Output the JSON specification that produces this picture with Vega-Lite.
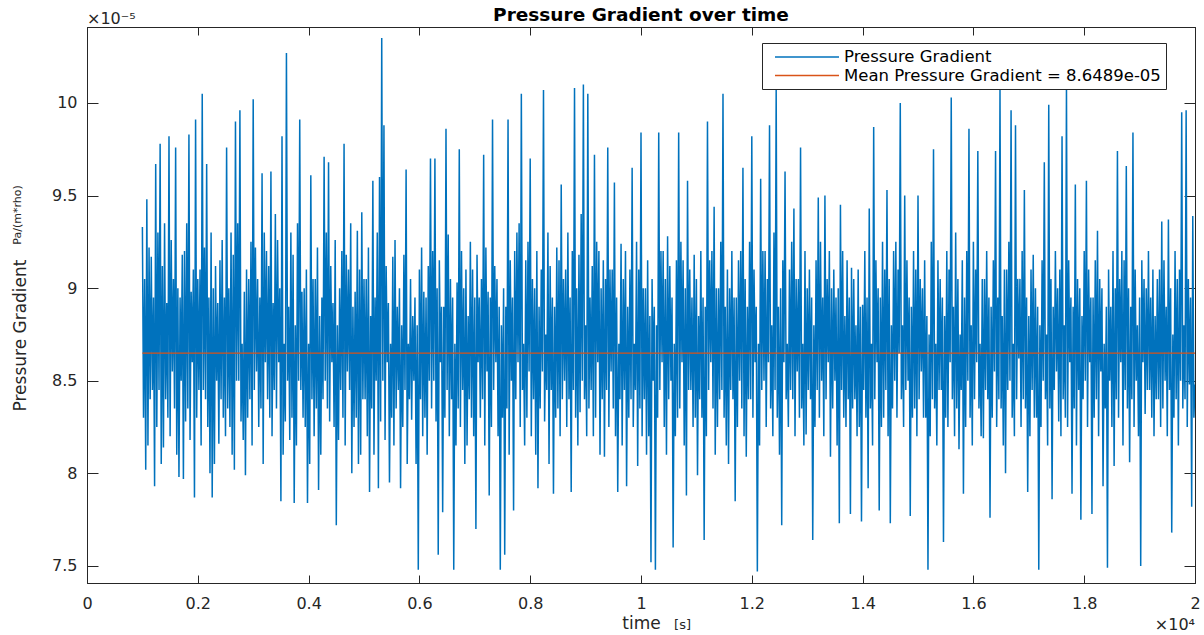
{
"$schema": "https://vega.github.io/schema/vega-lite/v6.json",
"width": 1108,
"height": 556,
"autosize": {"type": "none"},
"padding": {"left": 87, "top": 27, "right": 9, "bottom": 52},
"background": "white",
"config": {
  "font": "DejaVu Sans",
  "view": {"stroke": "#262626", "strokeWidth": 1},
  "axis": {"domainColor": "#262626", "domainWidth": 1, "tickColor": "#262626", "tickWidth": 1, "labelColor": "#262626", "labelFont": "DejaVu Sans", "labelFontSize": 16, "titleColor": "#262626", "titleFont": "DejaVu Sans", "titleFontWeight": "normal", "grid": false}
},
"title": {"text": "Pressure Gradient over time", "font": "DejaVu Sans", "fontSize": 18.5, "fontWeight": "bold", "color": "black", "anchor": "middle", "frame": "group", "offset": -14},
"datasets": {
"pg": [
{"t":1000,"p":9.33},{"t":1020,"p":8.30},{"t":1040,"p":9.05},{"t":1060,"p":8.02},{"t":1080,"p":9.48},{"t":1100,"p":8.15},{"t":1120,"p":9.22},{"t":1140,"p":8.40},{"t":1160,"p":9.17},{"t":1180,"p":8.45},
{"t":1200,"p":8.95},{"t":1220,"p":7.93},{"t":1240,"p":9.67},{"t":1260,"p":8.25},{"t":1280,"p":9.30},{"t":1300,"p":8.45},{"t":1320,"p":9.78},{"t":1340,"p":8.05},{"t":1360,"p":9.12},{"t":1380,"p":8.14},
{"t":1400,"p":9.35},{"t":1420,"p":8.40},{"t":1440,"p":8.92},{"t":1460,"p":8.30},{"t":1480,"p":9.82},{"t":1500,"p":8.20},{"t":1520,"p":9.26},{"t":1540,"p":8.55},{"t":1560,"p":9.05},{"t":1580,"p":8.35},
{"t":1600,"p":9.76},{"t":1620,"p":8.10},{"t":1640,"p":9.00},{"t":1660,"p":7.98},{"t":1680,"p":8.95},{"t":1700,"p":8.50},{"t":1720,"p":9.18},{"t":1740,"p":7.97},{"t":1760,"p":9.20},{"t":1780,"p":8.28},
{"t":1800,"p":9.35},{"t":1820,"p":8.35},{"t":1840,"p":9.83},{"t":1860,"p":8.18},{"t":1880,"p":8.98},{"t":1900,"p":8.60},{"t":1920,"p":9.10},{"t":1940,"p":7.87},{"t":1960,"p":9.91},{"t":1980,"p":8.30},
{"t":2000,"p":9.05},{"t":2020,"p":8.45},{"t":2040,"p":9.10},{"t":2060,"p":8.15},{"t":2080,"p":10.05},{"t":2100,"p":8.45},{"t":2120,"p":9.22},{"t":2140,"p":8.40},{"t":2160,"p":9.67},{"t":2180,"p":8.25},
{"t":2200,"p":8.95},{"t":2220,"p":8.00},{"t":2240,"p":9.30},{"t":2260,"p":7.87},{"t":2280,"p":9.00},{"t":2300,"p":8.05},{"t":2320,"p":9.12},{"t":2340,"p":8.50},{"t":2360,"p":8.92},{"t":2380,"p":8.16},
{"t":2400,"p":9.15},{"t":2420,"p":8.40},{"t":2440,"p":9.26},{"t":2460,"p":8.30},{"t":2480,"p":8.95},{"t":2500,"p":8.20},{"t":2520,"p":9.76},{"t":2540,"p":8.35},{"t":2560,"p":9.00},{"t":2580,"p":8.25},
{"t":2600,"p":9.30},{"t":2620,"p":8.10},{"t":2640,"p":9.18},{"t":2660,"p":8.02},{"t":2680,"p":9.90},{"t":2700,"p":8.50},{"t":2720,"p":9.35},{"t":2740,"p":8.50},{"t":2760,"p":9.96},{"t":2780,"p":8.28},
{"t":2800,"p":8.70},{"t":2820,"p":8.18},{"t":2840,"p":8.98},{"t":2860,"p":7.99},{"t":2880,"p":9.10},{"t":2900,"p":8.30},{"t":2920,"p":9.05},{"t":2940,"p":8.40},{"t":2960,"p":9.25},{"t":2980,"p":8.15},
{"t":3000,"p":10.02},{"t":3020,"p":8.45},{"t":3040,"p":9.22},{"t":3060,"p":8.55},{"t":3080,"p":9.05},{"t":3100,"p":8.25},{"t":3120,"p":8.95},{"t":3140,"p":8.35},{"t":3160,"p":9.62},{"t":3180,"p":8.05},
{"t":3200,"p":9.30},{"t":3220,"p":8.60},{"t":3240,"p":9.20},{"t":3260,"p":8.40},{"t":3280,"p":9.12},{"t":3300,"p":8.30},{"t":3320,"p":9.63},{"t":3340,"p":8.20},{"t":3360,"p":8.92},{"t":3380,"p":8.45},
{"t":3400,"p":9.40},{"t":3420,"p":8.35},{"t":3440,"p":9.26},{"t":3460,"p":8.60},{"t":3480,"p":9.00},{"t":3500,"p":7.85},{"t":3520,"p":9.82},{"t":3540,"p":8.10},{"t":3560,"p":8.70},{"t":3580,"p":8.28},
{"t":3600,"p":10.27},{"t":3620,"p":8.50},{"t":3640,"p":8.90},{"t":3660,"p":8.18},{"t":3680,"p":9.30},{"t":3700,"p":8.30},{"t":3720,"p":9.18},{"t":3740,"p":7.84},{"t":3760,"p":8.80},{"t":3780,"p":8.15},
{"t":3800,"p":9.35},{"t":3820,"p":8.50},{"t":3840,"p":9.91},{"t":3860,"p":8.45},{"t":3880,"p":8.98},{"t":3900,"p":8.30},{"t":3920,"p":9.00},{"t":3940,"p":8.25},{"t":3960,"p":9.10},{"t":3980,"p":7.84},
{"t":4000,"p":8.70},{"t":4020,"p":8.05},{"t":4040,"p":9.61},{"t":4060,"p":8.40},{"t":4080,"p":9.05},{"t":4100,"p":8.20},{"t":4120,"p":9.05},{"t":4140,"p":8.35},{"t":4160,"p":9.22},{"t":4180,"p":7.91},
{"t":4200,"p":8.85},{"t":4220,"p":8.10},{"t":4240,"p":8.95},{"t":4260,"p":8.40},{"t":4280,"p":9.71},{"t":4300,"p":8.50},{"t":4320,"p":9.30},{"t":4340,"p":8.35},{"t":4360,"p":9.68},{"t":4380,"p":8.28},
{"t":4400,"p":9.12},{"t":4420,"p":8.60},{"t":4440,"p":8.92},{"t":4460,"p":8.25},{"t":4480,"p":9.26},{"t":4500,"p":7.72},{"t":4520,"p":8.80},{"t":4540,"p":8.18},{"t":4560,"p":9.00},{"t":4580,"p":8.45},
{"t":4600,"p":9.20},{"t":4620,"p":8.30},{"t":4640,"p":9.78},{"t":4660,"p":8.15},{"t":4680,"p":9.18},{"t":4700,"p":8.55},{"t":4720,"p":9.10},{"t":4740,"p":8.45},{"t":4760,"p":9.35},{"t":4780,"p":8.00},
{"t":4800,"p":8.90},{"t":4820,"p":8.25},{"t":4840,"p":8.98},{"t":4860,"p":8.30},{"t":4880,"p":9.31},{"t":4900,"p":8.05},{"t":4920,"p":9.10},{"t":4940,"p":8.10},{"t":4960,"p":9.41},{"t":4980,"p":8.40},
{"t":5000,"p":9.05},{"t":5020,"p":8.40},{"t":5040,"p":9.05},{"t":5060,"p":8.20},{"t":5080,"p":9.22},{"t":5100,"p":7.90},{"t":5120,"p":8.85},{"t":5140,"p":8.35},{"t":5160,"p":9.58},{"t":5180,"p":8.10},
{"t":5200,"p":8.95},{"t":5220,"p":8.50},{"t":5240,"p":9.30},{"t":5260,"p":7.92},{"t":5280,"p":9.60},{"t":5300,"p":8.28},{"t":5320,"p":10.35},{"t":5340,"p":8.50},{"t":5360,"p":9.88},{"t":5380,"p":8.18},
{"t":5400,"p":9.12},{"t":5420,"p":8.60},{"t":5440,"p":8.92},{"t":5460,"p":7.95},{"t":5480,"p":8.70},{"t":5500,"p":8.30},{"t":5520,"p":9.17},{"t":5540,"p":8.15},{"t":5560,"p":9.26},{"t":5580,"p":8.35},
{"t":5600,"p":8.90},{"t":5620,"p":8.45},{"t":5640,"p":9.00},{"t":5660,"p":7.92},{"t":5680,"p":8.80},{"t":5700,"p":8.25},{"t":5720,"p":9.18},{"t":5740,"p":8.45},{"t":5760,"p":9.64},{"t":5780,"p":8.05},
{"t":5800,"p":8.70},{"t":5820,"p":8.40},{"t":5840,"p":9.05},{"t":5860,"p":8.29},{"t":5880,"p":8.85},{"t":5900,"p":8.50},{"t":5920,"p":8.95},{"t":5940,"p":8.05},{"t":5960,"p":8.80},{"t":5980,"p":7.48},
{"t":6000,"p":9.10},{"t":6020,"p":8.40},{"t":6040,"p":9.22},{"t":6060,"p":8.20},{"t":6080,"p":8.98},{"t":6100,"p":8.30},{"t":6120,"p":8.95},{"t":6140,"p":8.10},{"t":6160,"p":9.12},{"t":6180,"p":8.50},
{"t":6200,"p":9.70},{"t":6220,"p":8.35},{"t":6240,"p":9.20},{"t":6260,"p":8.50},{"t":6280,"p":9.70},{"t":6300,"p":8.28},{"t":6320,"p":9.00},{"t":6340,"p":7.56},{"t":6360,"p":9.15},{"t":6380,"p":8.60},
{"t":6400,"p":8.90},{"t":6420,"p":7.79},{"t":6440,"p":8.90},{"t":6460,"p":8.30},{"t":6480,"p":9.86},{"t":6500,"p":8.45},{"t":6520,"p":9.29},{"t":6540,"p":8.20},{"t":6560,"p":9.05},{"t":6580,"p":8.40},
{"t":6600,"p":8.95},{"t":6620,"p":7.48},{"t":6640,"p":8.70},{"t":6660,"p":8.15},{"t":6680,"p":9.03},{"t":6700,"p":8.35},{"t":6720,"p":9.75},{"t":6740,"p":8.25},{"t":6760,"p":9.20},{"t":6780,"p":8.45},
{"t":6800,"p":9.00},{"t":6820,"p":8.05},{"t":6840,"p":9.10},{"t":6860,"p":8.15},{"t":6880,"p":8.85},{"t":6900,"p":8.40},{"t":6920,"p":9.25},{"t":6940,"p":8.30},{"t":6960,"p":9.10},{"t":6980,"p":8.20},
{"t":7000,"p":8.95},{"t":7020,"p":7.70},{"t":7040,"p":9.18},{"t":7060,"p":8.60},{"t":7080,"p":8.95},{"t":7100,"p":8.30},{"t":7120,"p":9.05},{"t":7140,"p":8.40},{"t":7160,"p":9.72},{"t":7180,"p":8.15},
{"t":7200,"p":9.22},{"t":7220,"p":8.55},{"t":7240,"p":8.98},{"t":7260,"p":7.88},{"t":7280,"p":8.95},{"t":7300,"p":8.25},{"t":7320,"p":9.91},{"t":7340,"p":8.45},{"t":7360,"p":9.12},{"t":7380,"p":8.60},
{"t":7400,"p":9.05},{"t":7420,"p":8.20},{"t":7440,"p":8.90},{"t":7460,"p":7.48},{"t":7480,"p":8.80},{"t":7500,"p":8.30},{"t":7520,"p":9.00},{"t":7540,"p":7.56},{"t":7560,"p":8.90},{"t":7580,"p":8.35},
{"t":7600,"p":9.91},{"t":7620,"p":8.10},{"t":7640,"p":9.15},{"t":7660,"p":8.50},{"t":7680,"p":8.95},{"t":7700,"p":7.80},{"t":7720,"p":9.20},{"t":7740,"p":8.40},{"t":7760,"p":9.30},{"t":7780,"p":8.60},
{"t":7800,"p":9.35},{"t":7820,"p":8.25},{"t":7840,"p":10.05},{"t":7860,"p":8.45},{"t":7880,"p":8.70},{"t":7900,"p":8.15},{"t":7920,"p":9.15},{"t":7940,"p":8.30},{"t":7960,"p":9.25},{"t":7980,"p":8.55},
{"t":8000,"p":9.70},{"t":8020,"p":8.20},{"t":8040,"p":9.05},{"t":8060,"p":8.40},{"t":8080,"p":9.00},{"t":8100,"p":8.10},{"t":8120,"p":9.20},{"t":8140,"p":7.92},{"t":8160,"p":8.90},{"t":8180,"p":8.35},
{"t":8200,"p":9.10},{"t":8220,"p":8.55},{"t":8240,"p":10.07},{"t":8260,"p":8.28},{"t":8280,"p":8.75},{"t":8300,"p":8.45},{"t":8320,"p":9.30},{"t":8340,"p":8.05},{"t":8360,"p":9.12},{"t":8380,"p":8.45},
{"t":8400,"p":8.95},{"t":8420,"p":7.89},{"t":8440,"p":8.90},{"t":8460,"p":8.30},{"t":8480,"p":9.22},{"t":8500,"p":8.35},{"t":8520,"p":9.15},{"t":8540,"p":8.20},{"t":8560,"p":9.56},{"t":8580,"p":8.40},
{"t":8600,"p":9.05},{"t":8620,"p":8.50},{"t":8640,"p":9.10},{"t":8660,"p":8.25},{"t":8680,"p":9.30},{"t":8700,"p":8.40},{"t":8720,"p":8.95},{"t":8740,"p":7.90},{"t":8760,"p":9.20},{"t":8780,"p":8.45},
{"t":8800,"p":10.08},{"t":8820,"p":8.30},{"t":8840,"p":9.00},{"t":8860,"p":8.15},{"t":8880,"p":9.18},{"t":8900,"p":8.33},{"t":8920,"p":9.40},{"t":8940,"p":8.50},{"t":8960,"p":10.10},{"t":8980,"p":8.40},
{"t":9000,"p":8.80},{"t":9020,"p":8.20},{"t":9040,"p":10.05},{"t":9060,"p":8.35},{"t":9080,"p":8.95},{"t":9100,"p":8.45},{"t":9120,"p":9.12},{"t":9140,"p":8.20},{"t":9160,"p":9.72},{"t":9180,"p":8.30},
{"t":9200,"p":9.25},{"t":9220,"p":8.60},{"t":9240,"p":9.20},{"t":9260,"p":8.10},{"t":9280,"p":9.00},{"t":9300,"p":8.40},{"t":9320,"p":9.15},{"t":9340,"p":8.09},{"t":9360,"p":9.05},{"t":9380,"p":8.45},
{"t":9400,"p":9.76},{"t":9420,"p":8.25},{"t":9440,"p":9.10},{"t":9460,"p":8.55},{"t":9480,"p":9.10},{"t":9500,"p":8.35},{"t":9520,"p":9.57},{"t":9540,"p":8.20},{"t":9560,"p":8.95},{"t":9580,"p":7.90},
{"t":9600,"p":8.70},{"t":9620,"p":8.40},{"t":9640,"p":9.24},{"t":9660,"p":8.15},{"t":9680,"p":9.05},{"t":9700,"p":8.45},{"t":9720,"p":9.20},{"t":9740,"p":7.93},{"t":9760,"p":8.90},{"t":9780,"p":8.30},
{"t":9800,"p":9.10},{"t":9820,"p":8.40},{"t":9840,"p":9.65},{"t":9860,"p":8.25},{"t":9880,"p":8.70},{"t":9900,"p":8.45},{"t":9920,"p":9.25},{"t":9940,"p":8.04},{"t":9960,"p":9.10},{"t":9980,"p":8.35},
{"t":10000,"p":9.84},{"t":10020,"p":8.20},{"t":10040,"p":9.00},{"t":10060,"p":8.40},{"t":10080,"p":9.00},{"t":10100,"p":8.10},{"t":10120,"p":9.15},{"t":10140,"p":8.20},{"t":10160,"p":8.85},{"t":10180,"p":7.52},
{"t":10200,"p":9.05},{"t":10220,"p":8.50},{"t":10240,"p":8.90},{"t":10260,"p":7.48},{"t":10280,"p":8.80},{"t":10300,"p":8.30},{"t":10320,"p":9.84},{"t":10340,"p":8.45},{"t":10360,"p":9.20},{"t":10380,"p":8.60},
{"t":10400,"p":9.20},{"t":10420,"p":8.25},{"t":10440,"p":9.05},{"t":10460,"p":8.10},{"t":10480,"p":9.28},{"t":10500,"p":8.40},{"t":10520,"p":9.12},{"t":10540,"p":8.50},{"t":10560,"p":8.95},{"t":10580,"p":7.60},
{"t":10600,"p":8.70},{"t":10620,"p":8.20},{"t":10640,"p":9.15},{"t":10660,"p":8.30},{"t":10680,"p":9.84},{"t":10700,"p":8.35},{"t":10720,"p":9.25},{"t":10740,"p":8.60},{"t":10760,"p":9.15},{"t":10780,"p":8.15},
{"t":10800,"p":9.00},{"t":10820,"p":7.88},{"t":10840,"p":9.58},{"t":10860,"p":8.45},{"t":10880,"p":9.10},{"t":10900,"p":8.45},{"t":10920,"p":8.95},{"t":10940,"p":8.25},{"t":10960,"p":9.18},{"t":10980,"p":8.30},
{"t":11000,"p":9.05},{"t":11020,"p":7.99},{"t":11040,"p":8.85},{"t":11060,"p":8.40},{"t":11080,"p":9.20},{"t":11100,"p":8.30},{"t":11120,"p":8.95},{"t":11140,"p":7.64},{"t":11160,"p":8.90},{"t":11180,"p":8.20},
{"t":11200,"p":9.90},{"t":11220,"p":8.45},{"t":11240,"p":9.15},{"t":11260,"p":8.60},{"t":11280,"p":9.20},{"t":11300,"p":8.35},{"t":11320,"p":9.44},{"t":11340,"p":8.10},{"t":11360,"p":9.00},{"t":11380,"p":8.25},
{"t":11400,"p":9.00},{"t":11420,"p":8.40},{"t":11440,"p":9.25},{"t":11460,"p":8.45},{"t":11480,"p":10.05},{"t":11500,"p":8.30},{"t":11520,"p":8.90},{"t":11540,"p":8.15},{"t":11560,"p":9.10},{"t":11580,"p":8.05},
{"t":11600,"p":9.00},{"t":11620,"p":8.45},{"t":11640,"p":9.20},{"t":11660,"p":8.40},{"t":11680,"p":8.95},{"t":11700,"p":7.85},{"t":11720,"p":8.95},{"t":11740,"p":8.25},{"t":11760,"p":9.15},{"t":11780,"p":8.50},
{"t":11800,"p":9.20},{"t":11820,"p":8.35},{"t":11840,"p":9.65},{"t":11860,"p":8.20},{"t":11880,"p":9.05},{"t":11900,"p":8.09},{"t":11920,"p":8.90},{"t":11940,"p":8.40},{"t":11960,"p":9.25},{"t":11980,"p":8.40},
{"t":12000,"p":9.82},{"t":12020,"p":8.30},{"t":12040,"p":9.10},{"t":12060,"p":8.60},{"t":12080,"p":8.90},{"t":12100,"p":7.47},{"t":12120,"p":8.70},{"t":12140,"p":8.15},{"t":12160,"p":9.59},{"t":12180,"p":8.45},
{"t":12200,"p":9.20},{"t":12220,"p":8.50},{"t":12240,"p":9.20},{"t":12260,"p":8.25},{"t":12280,"p":9.05},{"t":12300,"p":8.60},{"t":12320,"p":9.88},{"t":12340,"p":8.35},{"t":12360,"p":8.80},{"t":12380,"p":8.20},
{"t":12400,"p":9.30},{"t":12420,"p":8.45},{"t":12440,"p":10.08},{"t":12460,"p":8.30},{"t":12480,"p":8.90},{"t":12500,"p":8.10},{"t":12520,"p":9.00},{"t":12540,"p":7.72},{"t":12560,"p":9.15},{"t":12580,"p":8.60},
{"t":12600,"p":9.63},{"t":12620,"p":8.40},{"t":12640,"p":8.70},{"t":12660,"p":8.25},{"t":12680,"p":9.10},{"t":12700,"p":8.45},{"t":12720,"p":9.25},{"t":12740,"p":8.40},{"t":12760,"p":9.43},{"t":12780,"p":8.20},
{"t":12800,"p":9.05},{"t":12820,"p":8.55},{"t":12840,"p":9.05},{"t":12860,"p":8.30},{"t":12880,"p":9.76},{"t":12900,"p":8.35},{"t":12920,"p":8.70},{"t":12940,"p":8.15},{"t":12960,"p":9.20},{"t":12980,"p":8.21},
{"t":13000,"p":9.00},{"t":13020,"p":8.45},{"t":13040,"p":9.10},{"t":13060,"p":8.40},{"t":13080,"p":8.95},{"t":13100,"p":7.64},{"t":13120,"p":8.80},{"t":13140,"p":8.25},{"t":13160,"p":9.15},{"t":13180,"p":8.45},
{"t":13200,"p":9.49},{"t":13220,"p":8.30},{"t":13240,"p":9.25},{"t":13260,"p":8.50},{"t":13280,"p":8.95},{"t":13300,"p":8.20},{"t":13320,"p":9.50},{"t":13340,"p":8.40},{"t":13360,"p":9.05},{"t":13380,"p":8.60},
{"t":13400,"p":9.20},{"t":13420,"p":8.09},{"t":13440,"p":9.00},{"t":13460,"p":8.35},{"t":13480,"p":9.10},{"t":13500,"p":8.50},{"t":13520,"p":8.95},{"t":13540,"p":8.15},{"t":13560,"p":9.00},{"t":13580,"p":7.73},
{"t":13600,"p":9.45},{"t":13620,"p":8.45},{"t":13640,"p":9.20},{"t":13660,"p":8.30},{"t":13680,"p":8.85},{"t":13700,"p":8.25},{"t":13720,"p":9.15},{"t":13740,"p":8.40},{"t":13760,"p":8.95},{"t":13780,"p":7.78},
{"t":13800,"p":9.11},{"t":13820,"p":8.35},{"t":13840,"p":9.05},{"t":13860,"p":8.40},{"t":13880,"p":8.80},{"t":13900,"p":8.20},{"t":13920,"p":9.10},{"t":13940,"p":8.25},{"t":13960,"p":8.90},{"t":13980,"p":7.74},
{"t":14000,"p":8.91},{"t":14020,"p":8.45},{"t":14040,"p":9.20},{"t":14060,"p":8.30},{"t":14080,"p":8.95},{"t":14100,"p":7.92},{"t":14120,"p":9.43},{"t":14140,"p":8.35},{"t":14160,"p":8.70},{"t":14180,"p":8.15},
{"t":14200,"p":9.87},{"t":14220,"p":8.40},{"t":14240,"p":9.15},{"t":14260,"p":8.60},{"t":14280,"p":9.00},{"t":14300,"p":7.80},{"t":14320,"p":8.95},{"t":14340,"p":8.25},{"t":14360,"p":9.25},{"t":14380,"p":8.30},
{"t":14400,"p":9.10},{"t":14420,"p":8.45},{"t":14440,"p":9.53},{"t":14460,"p":8.20},{"t":14480,"p":9.05},{"t":14500,"p":7.73},{"t":14520,"p":8.80},{"t":14540,"p":8.35},{"t":14560,"p":9.20},{"t":14580,"p":8.50},
{"t":14600,"p":9.25},{"t":14620,"p":8.30},{"t":14640,"p":9.10},{"t":14660,"p":8.65},{"t":14680,"p":10.00},{"t":14700,"p":8.40},{"t":14720,"p":8.80},{"t":14740,"p":8.25},{"t":14760,"p":9.50},{"t":14780,"p":8.45},
{"t":14800,"p":9.15},{"t":14820,"p":8.50},{"t":14840,"p":8.95},{"t":14860,"p":7.77},{"t":14880,"p":8.90},{"t":14900,"p":8.30},{"t":14920,"p":9.20},{"t":14940,"p":8.35},{"t":14960,"p":9.10},{"t":14980,"p":8.20},
{"t":15000,"p":9.50},{"t":15020,"p":8.40},{"t":15040,"p":9.05},{"t":15060,"p":8.55},{"t":15080,"p":9.00},{"t":15100,"p":8.30},{"t":15120,"p":9.15},{"t":15140,"p":8.30},{"t":15160,"p":8.85},{"t":15180,"p":7.48},
{"t":15200,"p":8.75},{"t":15220,"p":8.20},{"t":15240,"p":9.25},{"t":15260,"p":8.40},{"t":15280,"p":9.75},{"t":15300,"p":8.35},{"t":15320,"p":8.70},{"t":15340,"p":8.15},{"t":15360,"p":9.15},{"t":15380,"p":8.45},
{"t":15400,"p":9.05},{"t":15420,"p":8.45},{"t":15440,"p":8.95},{"t":15460,"p":7.63},{"t":15480,"p":8.85},{"t":15500,"p":8.30},{"t":15520,"p":9.20},{"t":15540,"p":8.25},{"t":15560,"p":9.10},{"t":15580,"p":8.60},
{"t":15600,"p":10.03},{"t":15620,"p":8.40},{"t":15640,"p":8.90},{"t":15660,"p":8.20},{"t":15680,"p":9.30},{"t":15700,"p":8.35},{"t":15720,"p":9.05},{"t":15740,"p":8.13},{"t":15760,"p":8.75},{"t":15780,"p":8.45},
{"t":15800,"p":9.15},{"t":15820,"p":7.89},{"t":15840,"p":8.95},{"t":15860,"p":8.25},{"t":15880,"p":9.20},{"t":15900,"p":8.50},{"t":15920,"p":9.86},{"t":15940,"p":8.30},{"t":15960,"p":8.80},{"t":15980,"p":8.15},
{"t":16000,"p":9.25},{"t":16020,"p":8.40},{"t":16040,"p":9.10},{"t":16060,"p":8.60},{"t":16080,"p":9.74},{"t":16100,"p":8.35},{"t":16120,"p":8.70},{"t":16140,"p":8.20},{"t":16160,"p":9.05},{"t":16180,"p":8.19},
{"t":16200,"p":9.05},{"t":16220,"p":8.45},{"t":16240,"p":9.20},{"t":16260,"p":8.40},{"t":16280,"p":8.95},{"t":16300,"p":7.76},{"t":16320,"p":8.90},{"t":16340,"p":8.30},{"t":16360,"p":9.15},{"t":16380,"p":8.55},
{"t":16400,"p":9.74},{"t":16420,"p":8.25},{"t":16440,"p":8.95},{"t":16460,"p":8.40},{"t":16480,"p":10.07},{"t":16500,"p":8.35},{"t":16520,"p":8.85},{"t":16540,"p":8.15},{"t":16560,"p":9.10},{"t":16580,"p":8.00},
{"t":16600,"p":9.10},{"t":16620,"p":8.45},{"t":16640,"p":9.25},{"t":16660,"p":8.50},{"t":16680,"p":9.96},{"t":16700,"p":8.30},{"t":16720,"p":8.70},{"t":16740,"p":8.20},{"t":16760,"p":9.88},{"t":16780,"p":8.40},
{"t":16800,"p":9.05},{"t":16820,"p":8.62},{"t":16840,"p":9.05},{"t":16860,"p":8.25},{"t":16880,"p":9.20},{"t":16900,"p":8.40},{"t":16920,"p":9.53},{"t":16940,"p":8.35},{"t":16960,"p":8.95},{"t":16980,"p":7.90},
{"t":17000,"p":8.85},{"t":17020,"p":8.20},{"t":17040,"p":9.10},{"t":17060,"p":8.45},{"t":17080,"p":9.18},{"t":17100,"p":8.30},{"t":17120,"p":9.00},{"t":17140,"p":8.30},{"t":17160,"p":8.90},{"t":17180,"p":7.48},
{"t":17200,"p":8.80},{"t":17220,"p":8.25},{"t":17240,"p":9.15},{"t":17260,"p":8.50},{"t":17280,"p":9.68},{"t":17300,"p":8.40},{"t":17320,"p":8.75},{"t":17340,"p":8.15},{"t":17360,"p":9.99},{"t":17380,"p":8.35},
{"t":17400,"p":9.05},{"t":17420,"p":7.86},{"t":17440,"p":8.90},{"t":17460,"p":8.45},{"t":17480,"p":9.20},{"t":17500,"p":8.55},{"t":17520,"p":9.00},{"t":17540,"p":8.28},{"t":17560,"p":9.10},{"t":17580,"p":8.20},
{"t":17600,"p":9.82},{"t":17620,"p":8.40},{"t":17640,"p":8.80},{"t":17660,"p":8.30},{"t":17680,"p":10.09},{"t":17700,"p":8.25},{"t":17720,"p":9.15},{"t":17740,"p":8.60},{"t":17760,"p":8.95},{"t":17780,"p":7.89},
{"t":17800,"p":8.90},{"t":17820,"p":8.35},{"t":17840,"p":9.56},{"t":17860,"p":8.15},{"t":17880,"p":9.05},{"t":17900,"p":8.45},{"t":17920,"p":9.00},{"t":17940,"p":7.75},{"t":17960,"p":8.85},{"t":17980,"p":8.40},
{"t":18000,"p":9.20},{"t":18020,"p":8.50},{"t":18040,"p":9.58},{"t":18060,"p":8.25},{"t":18080,"p":9.10},{"t":18100,"p":8.60},{"t":18120,"p":8.95},{"t":18140,"p":7.78},{"t":18160,"p":8.95},{"t":18180,"p":8.30},
{"t":18200,"p":9.15},{"t":18220,"p":8.40},{"t":18240,"p":9.31},{"t":18260,"p":8.20},{"t":18280,"p":9.05},{"t":18300,"p":8.55},{"t":18320,"p":9.00},{"t":18340,"p":7.93},{"t":18360,"p":8.70},{"t":18380,"p":8.35},
{"t":18400,"p":8.90},{"t":18420,"p":7.49},{"t":18440,"p":9.10},{"t":18460,"p":8.50},{"t":18480,"p":8.90},{"t":18500,"p":8.25},{"t":18520,"p":9.20},{"t":18540,"p":8.04},{"t":18560,"p":9.00},{"t":18580,"p":8.40},
{"t":18600,"p":9.74},{"t":18620,"p":8.30},{"t":18640,"p":9.05},{"t":18660,"p":8.60},{"t":18680,"p":9.20},{"t":18700,"p":8.15},{"t":18720,"p":9.15},{"t":18740,"p":8.45},{"t":18760,"p":9.66},{"t":18780,"p":8.35},
{"t":18800,"p":9.00},{"t":18820,"p":8.06},{"t":18840,"p":8.90},{"t":18860,"p":8.40},{"t":18880,"p":9.84},{"t":18900,"p":8.25},{"t":18920,"p":9.10},{"t":18940,"p":8.50},{"t":18960,"p":8.80},{"t":18980,"p":8.20},
{"t":19000,"p":8.95},{"t":19020,"p":7.50},{"t":19040,"p":9.15},{"t":19060,"p":8.60},{"t":19080,"p":9.05},{"t":19100,"p":8.32},{"t":19120,"p":9.00},{"t":19140,"p":8.45},{"t":19160,"p":9.20},{"t":19180,"p":8.45},
{"t":19200,"p":8.95},{"t":19220,"p":8.30},{"t":19240,"p":9.10},{"t":19260,"p":8.20},{"t":19280,"p":8.85},{"t":19300,"p":8.40},{"t":19320,"p":9.05},{"t":19340,"p":8.40},{"t":19360,"p":9.10},{"t":19380,"p":8.25},
{"t":19400,"p":9.36},{"t":19420,"p":8.35},{"t":19440,"p":9.15},{"t":19460,"p":8.50},{"t":19480,"p":8.90},{"t":19500,"p":8.20},{"t":19520,"p":9.37},{"t":19540,"p":8.45},{"t":19560,"p":9.00},{"t":19580,"p":7.68},
{"t":19600,"p":8.75},{"t":19620,"p":8.30},{"t":19640,"p":9.20},{"t":19660,"p":8.40},{"t":19680,"p":9.05},{"t":19700,"p":8.15},{"t":19720,"p":9.10},{"t":19740,"p":8.50},{"t":19760,"p":9.95},{"t":19780,"p":8.35},
{"t":19800,"p":8.80},{"t":19820,"p":8.40},{"t":19840,"p":9.96},{"t":19860,"p":8.25},{"t":19880,"p":9.05},{"t":19900,"p":8.48},{"t":19920,"p":8.95},{"t":19940,"p":7.82},{"t":19960,"p":9.39},{"t":19980,"p":8.30},
{"t":20000,"p":8.48}
],
"mean": [{"t":1000,"p":8.6489},{"t":20000,"p":8.6489}]
},
"layer": [
  {
    "data": {"name": "pg"},
    "mark": {"type": "line", "strokeWidth": 1.5, "clip": true},
    "encoding": {
      "x": {"field": "t", "type": "quantitative", "scale": {"domain": [0, 20000], "nice": false, "zero": false},
        "axis": {"orient": "bottom", "values": [0,2000,4000,6000,8000,10000,12000,14000,16000,18000,20000], "labelExpr": "format(datum.value/10000, '.1~f')", "tickSize": -8, "labelPadding": 20, "labelFlush": false, "title": "time", "titleFontSize": 17, "titleY": 45, "titleBaseline": "alphabetic"}},
      "y": {"field": "p", "type": "quantitative", "scale": {"domain": [7.408, 10.41], "nice": false, "zero": false},
        "axis": {"orient": "left", "values": [7.5,8,8.5,9,9.5,10], "labelExpr": "format(datum.value, '.1~f')", "tickSize": -11, "labelPadding": 21, "labelFlush": false, "title": "Pressure Gradient", "titleFontSize": 17, "titleAngle": 270, "titleX": -62, "titleY": 308, "titleAlign": "center", "titleBaseline": "alphabetic"}},
      "color": {"datum": "Pressure Gradient", "type": "nominal",
        "scale": {"domain": ["Pressure Gradient", "Mean Pressure Gradient = 8.6489e-05"], "range": ["#0072BD", "#D95319"]},
        "legend": {"orient": "none", "legendX": 675, "legendY": 16, "title": null, "fillColor": "white", "strokeColor": "#262626", "padding": 5, "symbolType": "M-4,0H4", "symbolSize": 256, "symbolStrokeWidth": 1.5, "symbolOffset": 31, "labelOffset": 28, "labelFont": "DejaVu Sans", "labelFontSize": 16.5, "labelColor": "black", "labelLimit": 600, "rowPadding": 0.5}}
    }
  },
  {
    "data": {"name": "mean"},
    "mark": {"type": "line", "strokeWidth": 1.2},
    "encoding": {
      "x": {"field": "t", "type": "quantitative", "scale": {"domain": [0, 20000], "nice": false, "zero": false},
        "axis": {"orient": "top", "values": [0,2000,4000,6000,8000,10000,12000,14000,16000,18000,20000], "labels": false, "tickSize": -8, "title": null}},
      "y": {"field": "p", "type": "quantitative", "scale": {"domain": [7.408, 10.41], "nice": false, "zero": false},
        "axis": {"orient": "right", "values": [7.5,8,8.5,9,9.5,10], "labels": false, "tickSize": -11, "title": null}},
      "color": {"datum": "Mean Pressure Gradient = 8.6489e-05", "type": "nominal"}
    }
  },
  {
    "data": {"values": [{}]},
    "mark": {"type": "text", "text": "×10⁻⁵", "align": "left", "baseline": "alphabetic", "fontSize": 16, "color": "#262626"},
    "encoding": {
      "x": {"datum": 0, "type": "quantitative", "axis": null},
      "y": {"datum": 10.427, "type": "quantitative", "axis": null}
    }
  },
  {
    "data": {"values": [{}]},
    "mark": {"type": "text", "text": "×10⁴", "align": "right", "baseline": "alphabetic", "fontSize": 16, "color": "#262626"},
    "encoding": {
      "x": {"datum": 20000, "type": "quantitative", "axis": null},
      "y": {"datum": 7.1544, "type": "quantitative", "axis": null}
    }
  },
  {
    "data": {"values": [{}]},
    "mark": {"type": "text", "text": "[s]", "align": "center", "baseline": "alphabetic", "fontSize": 13, "color": "#262626"},
    "encoding": {
      "x": {"datum": 10750, "type": "quantitative", "axis": null},
      "y": {"datum": 7.16, "type": "quantitative", "axis": null}
    }
  },
  {
    "data": {"values": [{}]},
    "mark": {"type": "text", "text": "Pa/(m*rho)", "angle": 270, "align": "center", "baseline": "alphabetic", "fontSize": 11, "color": "#262626"},
    "encoding": {
      "x": {"datum": -1192, "type": "quantitative", "axis": null},
      "y": {"datum": 9.395, "type": "quantitative", "axis": null}
    }
  }
],
"resolve": {"axis": {"x": "independent", "y": "independent"}}
}
